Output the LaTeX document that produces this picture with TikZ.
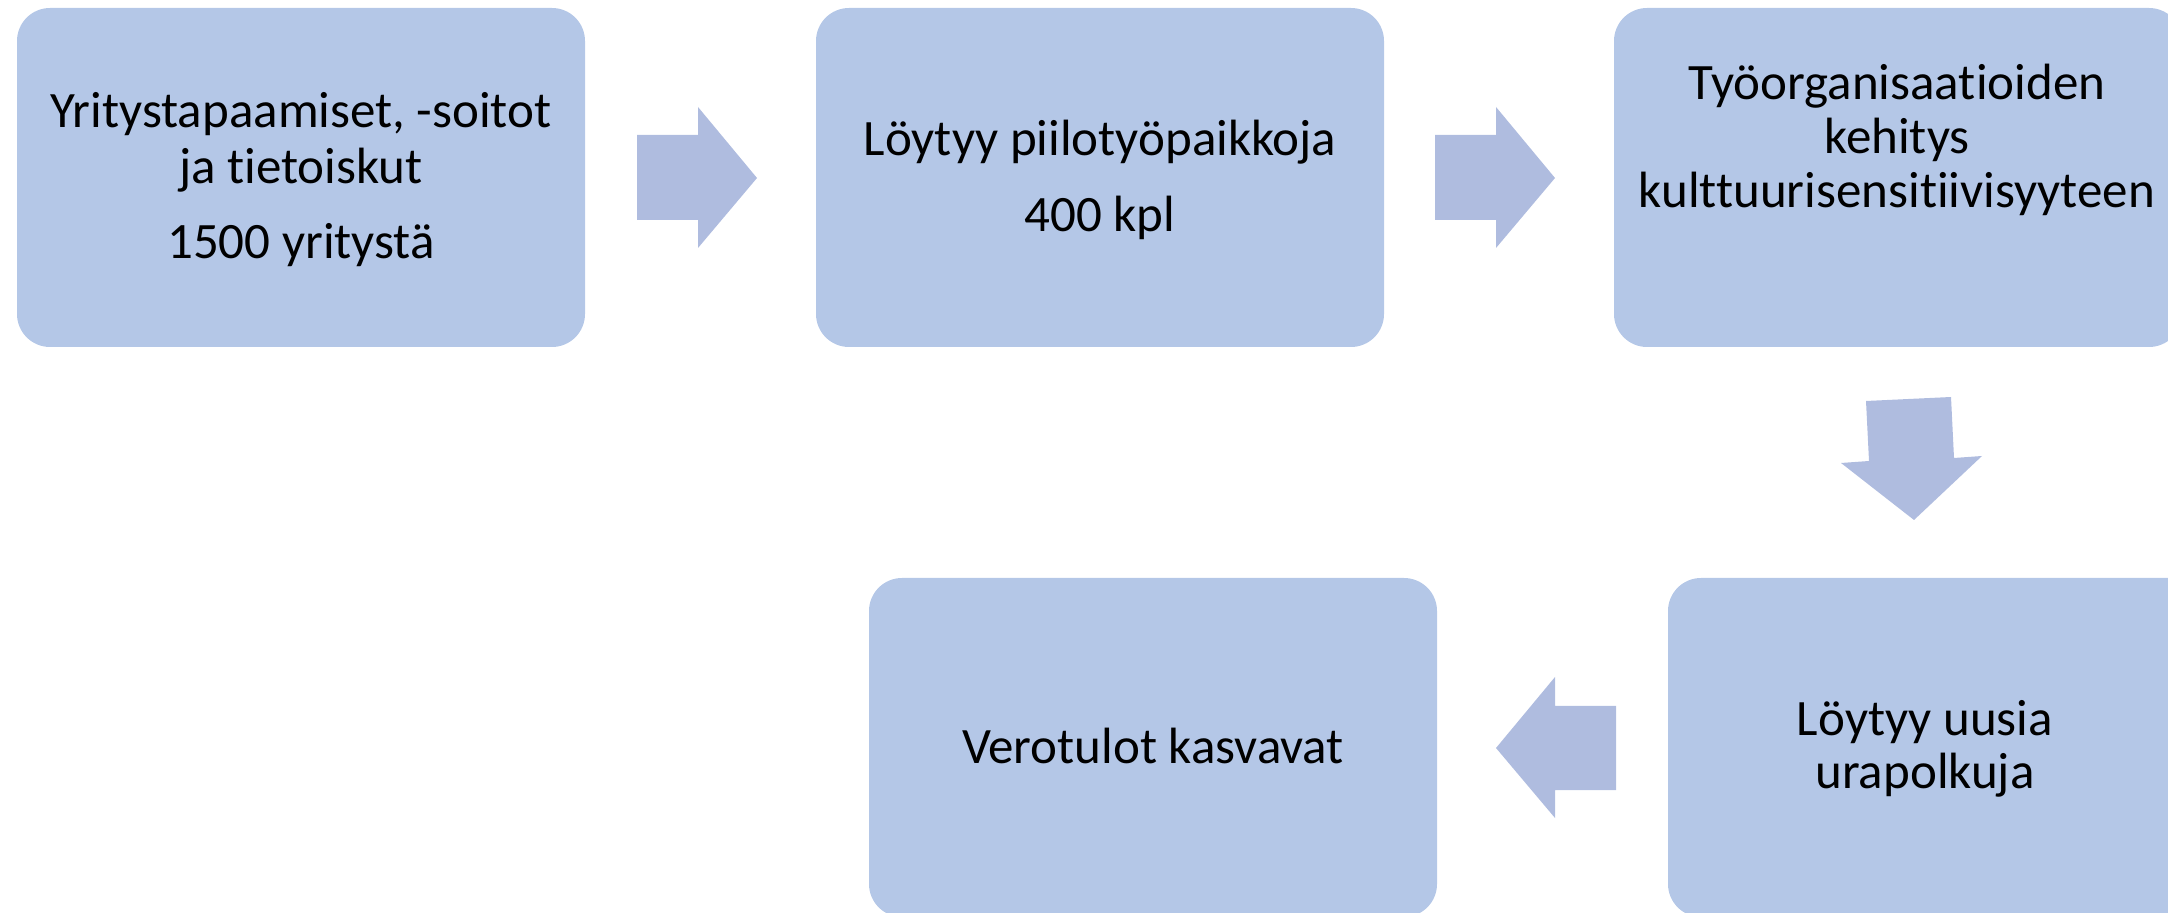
\documentclass[tikz,border=0pt]{standalone}
\usepackage{fontspec}
\setmainfont{Carlito}[Ligatures=NoCommon, Contextuals=NoAlternate]
\definecolor{boxfill}{HTML}{B4C7E7}
\definecolor{arrowfill}{HTML}{AFBCDF}
\tikzset{
  stepbox/.style={fill=boxfill, draw=none, rounded corners=16.5pt, inner sep=0pt,
    minimum width=284pt, minimum height=169.5pt},
  txt/.style={anchor=base, inner sep=0pt, font=\fontsize{25.5}{27}\selectfont},
  blockarrow/.style={fill=arrowfill, draw=none}
}
\begin{document}
\begin{tikzpicture}[x=0.5pt,y=-0.5pt]
\useasboundingbox (0,0) rectangle (2168,913);
\clip (0,0) rectangle (2168,913);
% boxes
\node[stepbox] (b1) at (301,177.5) {};
\node[stepbox] (b2) at (1100,177.5) {};
\node[stepbox] (b3) at (1898,177.5) {};
\node[stepbox] (b4) at (1153,747.5) {};
\node[stepbox] (b5) at (1952,747.5) {};
% texts
\node[txt] (t11) at (301,128) {Yritystapaamiset, -soitot};
\node[txt] (t12) at (301,184) {ja tietoiskut};
\node[txt] (t13) at (301,259) {1500 yritystä};
\node[txt] (t21) at (1100,156) {Löytyy piilotyöpaikkoja};
\node[txt] (t22) at (1100,232) {400 kpl};
\node[txt] (t31) at (1897,100) {Työorganisaatioiden};
\node[txt] (t32) at (1897,154) {kehitys};
\node[txt] (t33) at (1897,208) {kulttuurisensitiivisyyteen};
\node[txt] (t41) at (1153,763) {Verotulot kasvavat};
\node[txt] (t51) at (1925,735) {Löytyy uusia};
\node[txt] (t52) at (1925,788) {urapolkuja};
% block arrows
\fill[blockarrow] (637,135) -- (698,135) -- (698,107) -- (757,178) -- (698,248) -- (698,220) -- (637,220) -- cycle;
\fill[blockarrow] (1435,135) -- (1496,135) -- (1496,107) -- (1555,178) -- (1496,248) -- (1496,220) -- (1435,220) -- cycle;
\fill[blockarrow] (1866,401) -- (1951,397) -- (1954,458) -- (1982,456) -- (1914,520) -- (1841,463) -- (1869,461) -- cycle;
\fill[blockarrow] (1616,706) -- (1555,706) -- (1555,677) -- (1496,748) -- (1555,818) -- (1555,790) -- (1616,790) -- cycle;
\end{tikzpicture}
\end{document}
